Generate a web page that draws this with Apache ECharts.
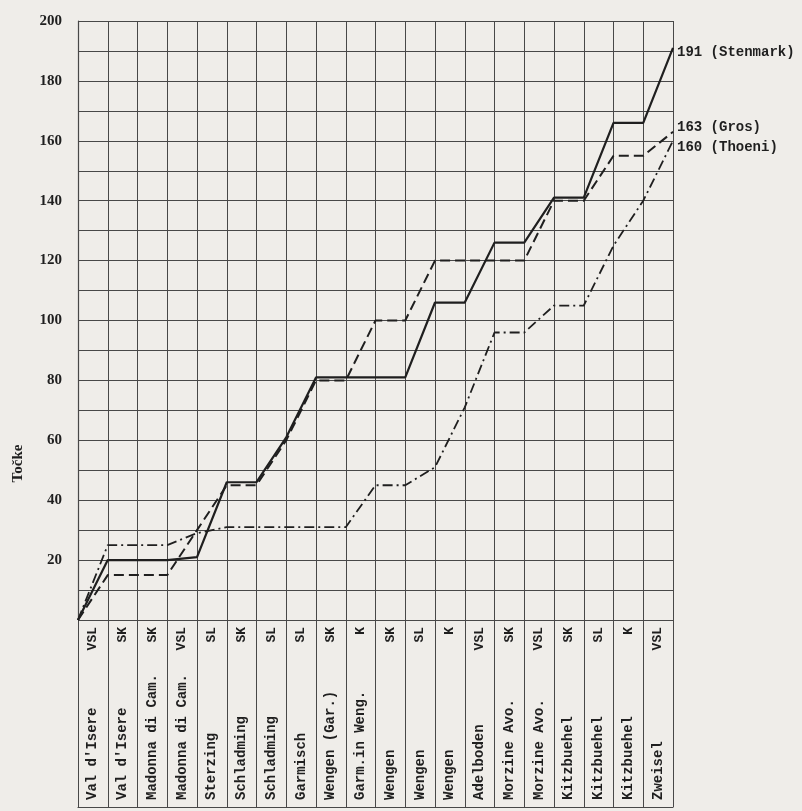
<!DOCTYPE html>
<html>
<head>
<meta charset="utf-8">
<script src="https://cdn.jsdelivr.net/npm/echarts@6/dist/echarts.min.js"></script>
<style>
html,body{margin:0;padding:0;background:#efede9;}
#c{width:802px;height:811px;}
</style>
</head>
<body>
<div id="c"></div>
<script>
// Races (column labels) and disciplines
const races = ["Val d'Isere","Val d'Isere","Madonna di Cam.","Madonna di Cam.","Sterzing","Schladming","Schladming","Garmisch","Wengen (Gar.)","Garm.in Weng.","Wengen","Wengen","Wengen","Adelboden","Morzine Avo.","Morzine Avo.","Kitzbuehel","Kitzbuehel","Kitzbuehel","Zweisel"];
const disciplines = ["VSL","SK","SK","VSL","SL","SK","SL","SL","SK","K","SK","SL","K","VSL","SK","VSL","SK","SL","K","VSL"];

// Cumulative points at each column boundary (start = 0, then after each race)
const stenmark = [0,20,20,20,21,46,46,61,81,81,81,81,106,106,126,126,141,141,166,166,191];
const gros     = [0,15,15,15,30,45,45,60,80,80,100,100,120,120,120,120,140,140,155,155,163];
const thoeni   = [0,25,25,25,29,31,31,31,31,31,45,45,51,71,96,96,105,105,125,140,160];

const yMin = 0, yMax = 200, yStep = 10, yLabelStep = 20;

const ink = '#1f1f1f';
const gridInk = '#484848';
const mono = '"Liberation Mono", "DejaVu Sans Mono", monospace';
const serif = '"Liberation Serif", "DejaVu Serif", serif';

const toPts = arr => arr.map((v, i) => [i, v]);
const endFmt = p => p.value[1] + ' (' + p.seriesName + ')';

const chart = echarts.init(document.getElementById('c'));
chart.setOption({
  backgroundColor: '#efede9',
  animation: false,
  grid: { left: 78, right: 129, top: 21, bottom: 191, containLabel: false },
  xAxis: [
    {
      type: 'value', min: 0, max: races.length, interval: 1,
      axisLine: { show: false }, axisTick: { show: false }, axisLabel: { show: false },
      splitLine: { show: true, lineStyle: { color: gridInk, width: 1 } }
    },
    {
      type: 'category', data: disciplines, position: 'bottom', offset: 0,
      axisLine: { show: false }, axisTick: { show: false },
      axisLabel: { interval: 0, rotate: 90, margin: 7, color: ink,
        fontFamily: mono, fontWeight: 'bold', fontSize: 13 },
      splitLine: { show: false }
    },
    {
      type: 'category', data: races, position: 'bottom', offset: 187,
      axisLine: { show: true, lineStyle: { color: gridInk, width: 1.2 } },
      axisTick: { show: true, inside: true, length: 187, interval: 0,
        lineStyle: { color: gridInk, width: 1 } },
      axisLabel: { interval: 0, inside: true, rotate: 90, margin: 7, color: ink,
        fontFamily: mono, fontWeight: 'bold', fontSize: 14 },
      splitLine: { show: false }
    }
  ],
  yAxis: {
    type: 'value', min: yMin, max: yMax, interval: yStep,
    name: 'Točke', nameLocation: 'middle', nameGap: 52, nameRotate: 90,
    nameTextStyle: { color: ink, fontFamily: serif, fontWeight: 'bold', fontSize: 15,
      padding: [0, 286, 0, 0] },
    axisLine: { show: true, lineStyle: { color: gridInk, width: 1.2 } },
    axisTick: { show: false },
    axisLabel: { margin: 16, color: ink, fontFamily: serif, fontWeight: 'bold', fontSize: 15,
      padding: [0, 0, 10, 0],
      formatter: v => (v > 0 && v % yLabelStep === 0 ? String(v) : '') },
    splitLine: { show: true, lineStyle: { color: gridInk, width: 1 } }
  },
  series: [
    {
      name: 'Stenmark', type: 'line', xAxisIndex: 0, data: toPts(stenmark),
      symbol: 'none', z: 5,
      lineStyle: { color: ink, width: 2.2, type: 'solid' },
      endLabel: { show: true, formatter: endFmt, distance: 4, offset: [0, 5],
        color: ink, fontFamily: mono, fontWeight: 'bold', fontSize: 14 }
    },
    {
      name: 'Gros', type: 'line', xAxisIndex: 0, data: toPts(gros),
      symbol: 'none', z: 4,
      lineStyle: { color: ink, width: 2, type: [10, 5] },
      endLabel: { show: true, formatter: endFmt, distance: 4, offset: [0, -4],
        color: ink, fontFamily: mono, fontWeight: 'bold', fontSize: 14 }
    },
    {
      name: 'Thoeni', type: 'line', xAxisIndex: 0, data: toPts(thoeni),
      symbol: 'none', z: 3,
      lineStyle: { color: ink, width: 1.8, type: [10, 4, 2, 4] },
      endLabel: { show: true, formatter: endFmt, distance: 4, offset: [0, 7],
        color: ink, fontFamily: mono, fontWeight: 'bold', fontSize: 14 }
    }
  ]
});
</script>
</body>
</html>
